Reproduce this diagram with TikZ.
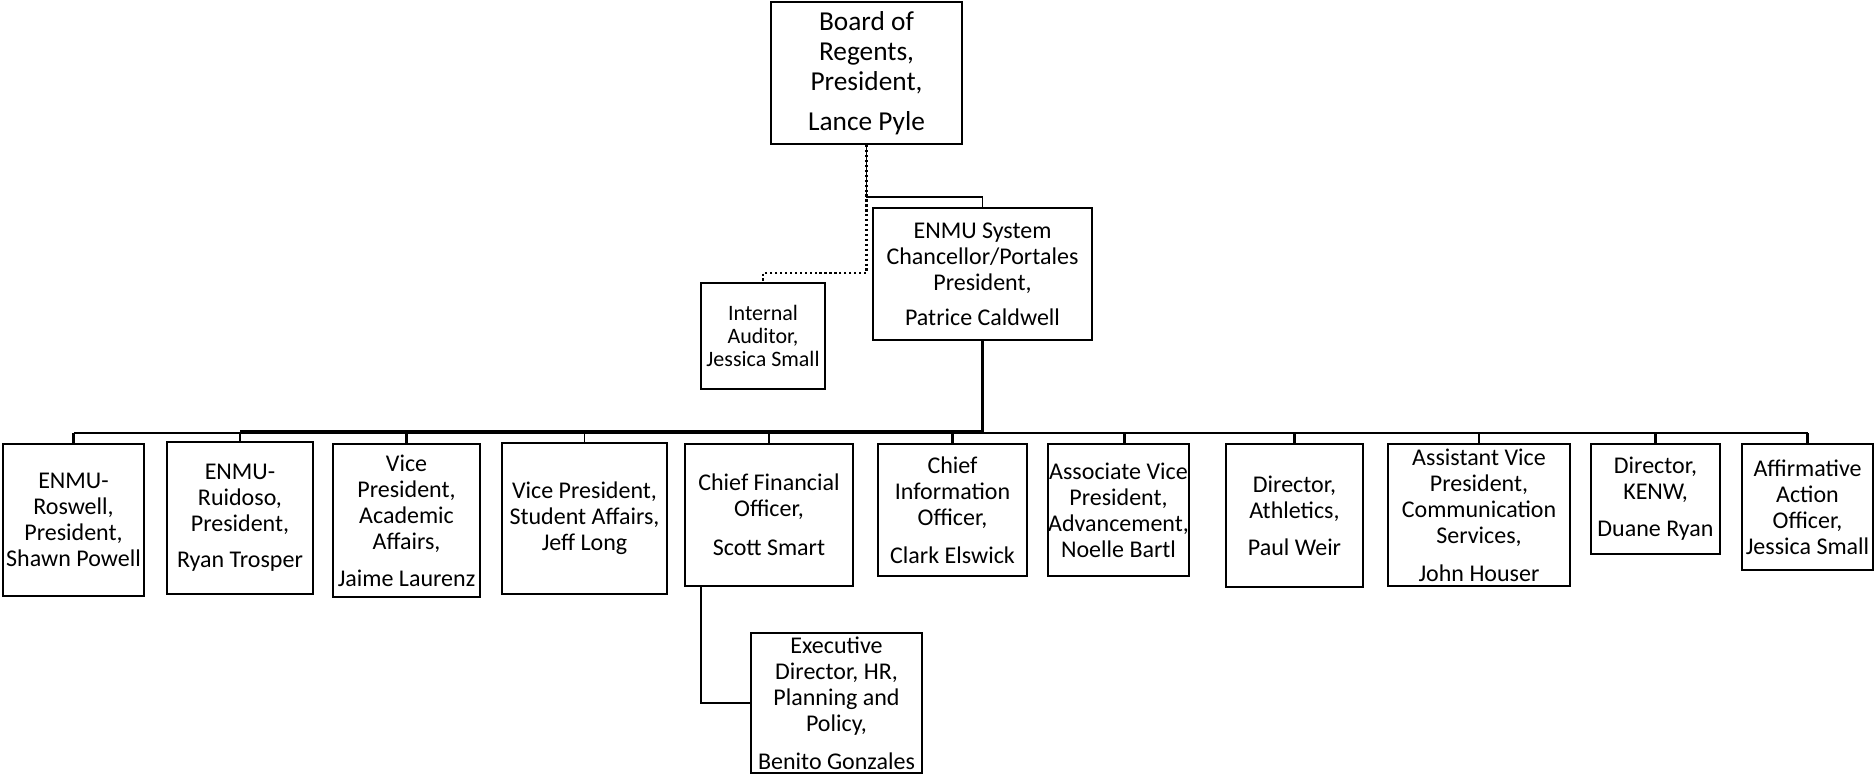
\documentclass[tikz,border=0pt]{standalone}
\usepackage{fontspec}
\setmainfont{Carlito}
\begin{document}
\begin{tikzpicture}[x=0.75pt,y=-0.75pt,
  org/.style={draw, line width=1.7pt, inner sep=0pt, align=center,
    font=\fontsize{18}{19.5}\selectfont},
  bx/.style 2 args={minimum width=#1*0.75pt, minimum height=#2*0.75pt},
  link/.style={line width=1.6pt},
  thickl/.style={line width=2.4pt},
  thinl/.style={line width=0.8pt},
  dotl/.style={line width=1.7pt, dotted}]
\useasboundingbox (0,0) rectangle (1874,774);

% top
\node[org, bx={191}{142}, font=\fontsize{20.5}{22.5}\selectfont] (board) at (866.5,73)
  {Board of\\Regents,\\President,\\[7.5pt]Lance Pyle};
\node[org, bx={219}{132}] (chan) at (982.5,274)
  {ENMU System\\Chancellor/Portales\\President,\\[6.75pt]Patrice Caldwell};
\node[org, bx={124}{106}, font=\fontsize{16.5}{17.25}\selectfont] (aud) at (763,336)
  {Internal\\Auditor,\\Jessica Small};

% second row
\node[org, bx={141}{152}] (ros) at (73.5,520) {ENMU-\\Roswell,\\President,\\Shawn Powell};
\node[org, bx={146}{152}] (rui) at (240,518) {ENMU-\\Ruidoso,\\President,\\[7.5pt]Ryan Trosper};
\node[org, bx={147}{153}] (vpa) at (406.5,520.5) {Vice\\President,\\Academic\\Affairs,\\[8pt]Jaime Laurenz};
\node[org, bx={165}{151}] (vps) at (584.5,518.5) {Vice President,\\Student Affairs,\\Jeff Long};
\node[org, bx={168}{142}] (cfo) at (769,515) {Chief Financial\\Officer,\\[9.5pt]Scott Smart};
\node[org, bx={149}{132}] (cio) at (952.5,510) {Chief\\Information\\Officer,\\[9pt]Clark Elswick};
\node[org, bx={141}{132}] (avp) at (1118.5,510) {Associate Vice\\President,\\Advancement,\\Noelle Bartl};
\node[org, bx={137}{143}] (ath) at (1294.5,515.5) {Director,\\Athletics,\\[8.5pt]Paul Weir};
\node[org, bx={182}{142}] (com) at (1479,515) {Assistant Vice\\President,\\Communication\\Services,\\[9pt]John Houser};
\node[org, bx={129}{110}] (kenw) at (1655.5,499) {Director,\\KENW,\\[8.25pt]Duane Ryan};
\node[org, bx={131}{126}] (aff) at (1807.5,507) {Affirmative\\Action\\Officer,\\Jessica Small};

\node[org, bx={171}{140}] (exec) at (836.5,703) {Executive\\Director, HR,\\Planning and\\Policy,\\[9pt]Benito Gonzales};

% helper levels
\coordinate (tee) at (0,197);
\coordinate (dotY) at (0,273);
\coordinate (barY) at (0,433);
\coordinate (barY2) at (0,431.5);

% connectors
\draw[thinl] (board.south) -- (board.south |- tee) -| (chan.north);
\draw[dotl] (board.south) -- (board.south |- dotY) -| (aud.north);
\draw[thickl] (chan.south) -- (chan.south |- barY);
\draw[link, line width=2pt] (ros.north |- barY) -- (aff.north |- barY);
\draw[thickl] (rui.north |- barY2) -- (chan.south |- barY2);
\foreach \n in {ros,rui,vpa,cfo,cio,ath,com,kenw,aff}
  \draw[link] (\n.north) -- (\n.north |- barY);
\draw[link] ([xshift=4.5pt]avp.north) -- ([xshift=4.5pt]avp.north |- barY);
\draw[thinl] (vps.north) -- (vps.north |- barY);
\draw[link] ([xshift=12.75pt]cfo.south west) |- (exec.west);
\end{tikzpicture}
\end{document}
